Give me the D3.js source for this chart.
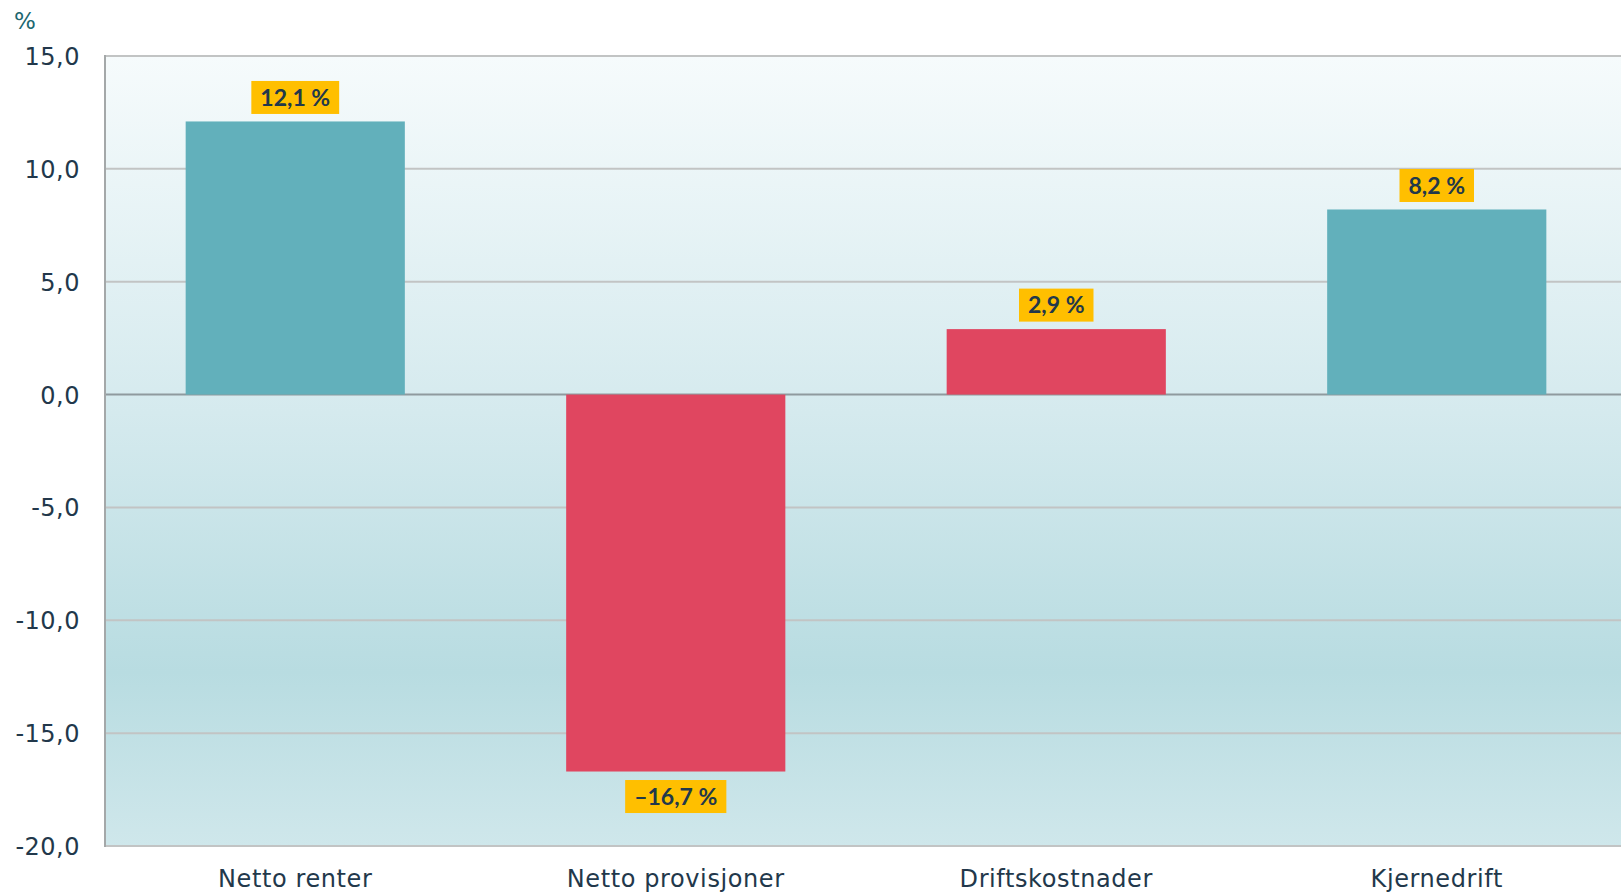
<!DOCTYPE html>
<html>
<head>
<meta charset="utf-8">
<script src="https://cdn.jsdelivr.net/npm/d3@7"></script>
<style>
  html, body { margin: 0; padding: 0; background: #fff; }
  svg { display: block; }
</style>
</head>
<body>
<div id="chart"></div>
<script>
// ── Canvas
const W = 1621, H = 893;
const M = { top: 56, right: -6, bottom: 47, left: 105 };

// ── Data
const categories = ['Netto renter', 'Netto provisjoner', 'Driftskostnader', 'Kjernedrift'];
const values     = [12.1, -16.7, 2.9, 8.2];
const barColors  = ['#62b0bb', '#e04660', '#e04660', '#62b0bb'];
const valueLabels = ['12,1 %', '\u201316,7 %', '2,9 %', '8,2 %'];
const yTicks     = [15, 10, 5, 0, -5, -10, -15, -20];

const FONT = '"DejaVu Sans", Verdana, sans-serif';
const TEXT = '#22384b';

const svg = d3.select('#chart').append('svg')
  .attr('width', W).attr('height', H);

// plot runs slightly past the right edge, as in the original
const x = d3.scaleBand()
  .domain(categories)
  .range([M.left, W - M.right])
  .paddingInner(0.424).paddingOuter(0.212);

const y = d3.scaleLinear()
  .domain([-20, 15])
  .range([H - M.bottom, M.top]);

// Background gradient
const defs = svg.append('defs');
const grad = defs.append('linearGradient')
  .attr('id', 'bg').attr('x1', 0).attr('y1', 0).attr('x2', 0).attr('y2', 1);
grad.append('stop').attr('offset', '0%').attr('stop-color', '#f6fbfc');
grad.append('stop').attr('offset', '45%').attr('stop-color', '#d5eaee');
grad.append('stop').attr('offset', '78%').attr('stop-color', '#b8dce1');
grad.append('stop').attr('offset', '100%').attr('stop-color', '#cfe7eb');

svg.append('rect')
  .attr('x', M.left).attr('y', y(15))
  .attr('width', W - M.left).attr('height', y(-20) - y(15))
  .attr('fill', 'url(#bg)');

// Gridlines
svg.append('g')
  .selectAll('line')
  .data(yTicks)
  .join('line')
  .attr('x1', M.left).attr('x2', W)
  .attr('y1', d => y(d)).attr('y2', d => y(d))
  .attr('stroke', d => d === 0 ? '#8f9a9e' : '#c2c4c4')
  .attr('stroke-width', 2);

// Bars
svg.append('g')
  .selectAll('rect')
  .data(values)
  .join('rect')
  .attr('x', (d, i) => x(categories[i]))
  .attr('width', x.bandwidth())
  .attr('y', d => y(Math.max(0, d)))
  .attr('height', d => Math.abs(y(d) - y(0)))
  .attr('fill', (d, i) => barColors[i]);

// Left axis line
svg.append('line')
  .attr('x1', M.left).attr('x2', M.left)
  .attr('y1', y(15) - 1).attr('y2', y(-20) + 1)
  .attr('stroke', '#a4a8a9').attr('stroke-width', 2);

// Y tick labels (plain hyphen for negatives)
svg.append('g')
  .selectAll('text')
  .data(yTicks)
  .join('text')
  .attr('x', 80).attr('y', d => y(d) + 9)
  .attr('text-anchor', 'end')
  .attr('fill', TEXT)
  .attr('font-family', FONT).attr('font-size', '24px')
  .attr('letter-spacing', '0.5px')
  .text(d => d.toFixed(1).replace('.', ','));

// Unit label
svg.append('text')
  .attr('x', 14).attr('y', 29)
  .attr('fill', '#1c6770')
  .attr('font-family', FONT).attr('font-size', '23px')
  .text('%');

// Category labels
svg.append('g')
  .selectAll('text')
  .data(categories)
  .join('text')
  .attr('x', d => x(d) + x.bandwidth() / 2).attr('y', 887)
  .attr('text-anchor', 'middle')
  .attr('fill', TEXT)
  .attr('font-family', FONT).attr('font-size', '24px')
  .attr('letter-spacing', '0.6px')
  .text(d => d);

// Value labels in yellow boxes
const lab = svg.append('g')
  .selectAll('g')
  .data(values)
  .join('g')
  .attr('transform', (d, i) => {
    const cx = x(categories[i]) + x.bandwidth() / 2;
    const cy = d >= 0 ? y(d) - 24 : y(d) + 25;
    return `translate(${cx},${cy})`;
  });

lab.append('text')
  .attr('text-anchor', 'middle').attr('dy', '0.36em')
  .attr('fill', TEXT)
  .attr('font-family', 'Lato, "Open Sans", sans-serif')
  .attr('font-size', '23px').attr('font-weight', 'bold')
  .text((d, i) => valueLabels[i]);

lab.insert('rect', 'text')
  .each(function () {
    const t = d3.select(this.parentNode).select('text').node().getBBox();
    d3.select(this)
      .attr('x', t.x - 9).attr('width', t.width + 18)
      .attr('y', -16.5).attr('height', 33);
  })
  .attr('fill', '#ffbf00');
</script>
</body>
</html>
